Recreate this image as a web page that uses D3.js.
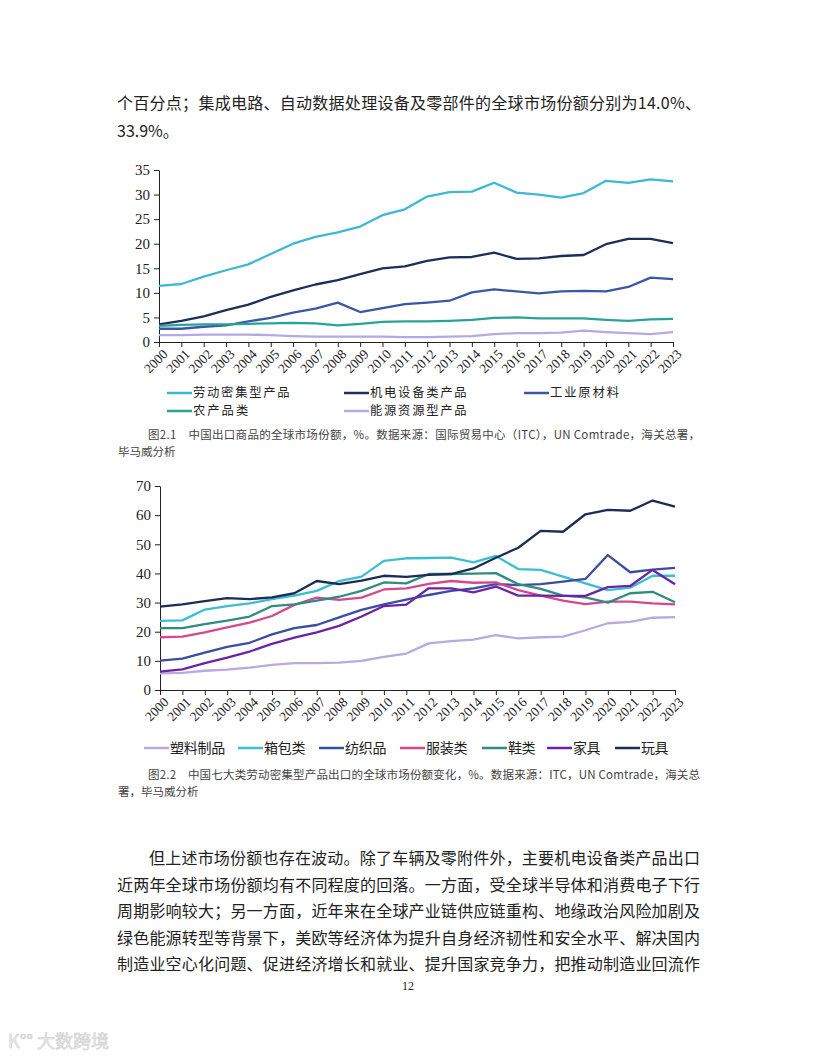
<!DOCTYPE html>
<html>
<head>
<meta charset="utf-8">
<script src="https://cdn.jsdelivr.net/npm/d3@7"></script>
<style>
  body { margin: 0; background: #fff; }
  svg { display: block; }
  .body-text { font-family: "Noto Sans CJK SC", sans-serif; font-size: 16px; fill: #222; }
  .caption { font-family: "Noto Sans CJK SC", sans-serif; font-size: 11.5px; fill: #444; }
  .legend text { font-family: "Noto Sans CJK SC", sans-serif; fill: #222; }
  .axis text { font-family: "Liberation Serif", serif; fill: #222; }
  .axis path, .axis line { stroke: #222; }
</style>
</head>
<body>
<svg width="816" height="1056"></svg>
<script>
const svg = d3.select('svg');

// years on the x axis
const years = ['2000', '2001', '2002', '2003', '2004', '2005', '2006', '2007', '2008', '2009', '2010', '2011',
  '2012', '2013', '2014', '2015', '2016', '2017', '2018', '2019', '2020', '2021', '2022', '2023'];

// figure 2.1 series
const labor = [11.4, 11.8, 13.3, 14.6, 15.8, 17.9, 20.0, 21.4, 22.3, 23.5, 25.8, 27.0, 29.6, 30.5, 30.6, 32.4, 30.4, 30.0, 29.4, 30.3, 32.8, 32.4, 33.1, 32.7];
const mech = [3.6, 4.3, 5.2, 6.5, 7.6, 9.2, 10.5, 11.7, 12.6, 13.8, 15.0, 15.4, 16.5, 17.2, 17.3, 18.2, 16.9, 17.0, 17.5, 17.7, 19.9, 21.0, 21.0, 20.1];
const rawMat = [2.7, 2.7, 3.1, 3.4, 4.2, 4.9, 6.0, 6.8, 8.0, 6.1, 6.9, 7.7, 8.0, 8.4, 10.1, 10.7, 10.3, 9.9, 10.3, 10.4, 10.3, 11.2, 13.1, 12.8];
const agri = [3.3, 3.5, 3.6, 3.6, 3.7, 3.8, 3.9, 3.8, 3.4, 3.7, 4.1, 4.2, 4.2, 4.3, 4.5, 4.9, 5.0, 4.8, 4.8, 4.8, 4.5, 4.3, 4.6, 4.7];
const energy = [1.4, 1.4, 1.5, 1.5, 1.5, 1.4, 1.2, 1.1, 1.1, 1.1, 1.1, 1.0, 1.0, 1.1, 1.2, 1.6, 1.8, 1.8, 1.9, 2.3, 2.0, 1.8, 1.6, 2.0];
const ticks1 = [0, 5, 10, 15, 20, 25, 30, 35];

// figure 2.2 series
const plastics = [5.7, 5.9, 6.6, 7.0, 7.7, 8.6, 9.2, 9.2, 9.4, 10.0, 11.4, 12.5, 16.0, 16.8, 17.3, 18.8, 17.7, 18.1, 18.3, 20.5, 22.9, 23.4, 24.8, 25.0];
const luggage = [23.7, 23.9, 27.6, 28.8, 29.7, 31.2, 32.4, 34.0, 37.4, 38.9, 44.3, 45.2, 45.3, 45.4, 43.8, 46.0, 41.5, 41.2, 38.9, 36.6, 34.3, 35.1, 39.2, 39.2];
const textiles = [10.1, 10.8, 12.8, 14.8, 16.2, 19.1, 21.2, 22.3, 24.9, 27.5, 29.4, 31.0, 32.6, 34.0, 34.9, 36.3, 36.0, 36.3, 37.2, 38.1, 46.3, 40.4, 41.3, 41.9];
const apparel = [18.1, 18.3, 19.8, 21.5, 23.1, 25.4, 29.2, 31.7, 30.9, 31.7, 34.5, 34.9, 36.4, 37.4, 36.8, 36.9, 34.3, 32.4, 30.7, 29.5, 30.3, 30.3, 29.7, 29.4];
const shoes = [21.2, 21.2, 22.6, 23.8, 25.2, 28.8, 29.4, 30.7, 32.0, 34.0, 36.9, 36.6, 39.8, 39.8, 39.9, 40.1, 36.3, 34.7, 32.4, 31.8, 30.0, 33.2, 33.7, 30.1];
const furniture = [6.3, 7.1, 9.2, 11.1, 13.2, 15.8, 18.0, 19.8, 22.0, 25.2, 28.8, 29.3, 34.9, 34.9, 33.5, 35.5, 32.4, 32.4, 32.3, 32.3, 35.3, 35.7, 41.2, 36.3];
const toys = [28.6, 29.4, 30.5, 31.5, 31.2, 31.8, 33.2, 37.4, 36.3, 37.5, 39.2, 38.8, 39.5, 39.8, 41.7, 45.4, 48.8, 54.6, 54.3, 60.3, 61.8, 61.5, 65.0, 62.9];
const ticks2 = [0, 10, 20, 30, 40, 50, 60, 70];

const series1 = [
  { name: '劳动密集型产品', values: labor, color: '#3db9d3' },
  { name: '机电设备类产品', values: mech, color: '#1c2f5c' },
  { name: '工业原材料', values: rawMat, color: '#3a56a6' },
  { name: '农产品类', values: agri, color: '#2aa397' },
  { name: '能源资源型产品', values: energy, color: '#b6a8e3' }
];

const series2 = [
  { name: '塑料制品', values: plastics, color: '#b8a9e0' },
  { name: '箱包类', values: luggage, color: '#3bbdd2' },
  { name: '纺织品', values: textiles, color: '#3a4d9e' },
  { name: '服装类', values: apparel, color: '#d6478f' },
  { name: '鞋类', values: shoes, color: '#2e8c80' },
  { name: '家具', values: furniture, color: '#6a24a8' },
  { name: '玩具', values: toys, color: '#1b2d54' }
];

svg.append('rect').attr('width', 816).attr('height', 1056).attr('fill', '#fff');

//draws one line chart with its axes
function drawChart(box, series, ticks) {
  const x = d3.scalePoint().domain(years).range([box.left, box.right]);
  const y = d3.scaleLinear().domain([0, ticks[ticks.length - 1]]).range([box.bottom, box.top]);

  const g = svg.append('g');

  g.append('g')
    .attr('class', 'axis')
    .attr('transform', `translate(${box.left},0)`)
    .call(d3.axisLeft(y).tickValues(ticks).tickSize(5).tickSizeOuter(0).tickPadding(4))
    .selectAll('text')
    .attr('font-size', 15);

  const xa = g.append('g')
    .attr('class', 'axis')
    .attr('transform', `translate(0,${box.bottom})`)
    .call(d3.axisBottom(x).tickSize(5).tickSizeOuter(0));

  xa.selectAll('text')
    .attr('font-size', 13.5)
    .attr('x', 0).attr('y', 0).attr('dy', 0)
    .attr('text-anchor', 'end')
    .attr('transform', 'translate(9,13) rotate(-45)');

  const line = d3.line()
    .x((d, i) => x(years[i]))
    .y(d => y(d));

  g.selectAll('.series')
    .data(series)
    .enter()
    .append('path')
    .attr('fill', 'none')
    .attr('stroke', d => d.color)
    .attr('stroke-width', 2.3)
    .attr('stroke-linejoin', 'round')
    .attr('d', d => line(d.values));
}

// legend: short coloured line then the name, name stretched to the reference width
function drawLegend(items, size) {
  const lg = svg.append('g').attr('class', 'legend');
  items.forEach(it => {
    lg.append('line')
      .attr('x1', it.x).attr('x2', it.x + 25)
      .attr('y1', it.y).attr('y2', it.y)
      .attr('stroke', it.s.color)
      .attr('stroke-width', 2.5);
    lg.append('text')
      .attr('x', it.x + 26)
      .attr('y', it.y)
      .attr('dy', '0.36em')
      .attr('font-size', size)
      .attr('textLength', it.s.name.length * 13.8)
      .attr('lengthAdjust', 'spacing')
      .text(it.s.name);
  });
}

// top text
svg.append('text').attr('class', 'body-text')
  .attr('x', 117).attr('y', 109)
  .attr('textLength', 584).attr('lengthAdjust', 'spacing')
  .text('个百分点；集成电路、自动数据处理设备及零部件的全球市场份额分别为14.0%、');
svg.append('text').attr('class', 'body-text')
  .attr('x', 117).attr('y', 137)
  .text('33.9%。');

// Figure 2.1
drawChart({ left: 159, right: 673, top: 170, bottom: 342 }, series1, ticks1);
drawLegend([
  { s: series1[0], x: 167, y: 393 },
  { s: series1[1], x: 344, y: 393 },
  { s: series1[2], x: 524, y: 393 },
  { s: series1[3], x: 167, y: 411 },
  { s: series1[4], x: 344, y: 411 }
], 12.3);

svg.append('text').attr('class', 'caption')
  .attr('x', 148).attr('y', 439)
  .attr('textLength', 552).attr('lengthAdjust', 'spacing')
  .text('图2.1　中国出口商品的全球市场份额，%。数据来源：国际贸易中心（ITC），UN Comtrade，海关总署，');
svg.append('text').attr('class', 'caption')
  .attr('x', 118).attr('y', 456)
  .text('毕马威分析');

// Figure 2.2
drawChart({ left: 160, right: 675, top: 486, bottom: 690 }, series2, ticks2);
drawLegend([
  { s: series2[0], x: 144, y: 748 },
  { s: series2[1], x: 238, y: 748 },
  { s: series2[2], x: 319, y: 748 },
  { s: series2[3], x: 400, y: 748 },
  { s: series2[4], x: 482, y: 748 },
  { s: series2[5], x: 547, y: 748 },
  { s: series2[6], x: 615, y: 748 }
], 14);

svg.append('text').attr('class', 'caption')
  .attr('x', 148).attr('y', 779)
  .attr('textLength', 552).attr('lengthAdjust', 'spacing')
  .text('图2.2　中国七大类劳动密集型产品出口的全球市场份额变化，%。数据来源：ITC，UN Comtrade，海关总');
svg.append('text').attr('class', 'caption')
  .attr('x', 118).attr('y', 796)
  .text('署，毕马威分析');

// body paragraph
const para = [
  { t: '但上述市场份额也存在波动。除了车辆及零附件外，主要机电设备类产品出口', x: 149, w: 551 },
  { t: '近两年全球市场份额均有不同程度的回落。一方面，受全球半导体和消费电子下行', x: 117, w: 583 },
  { t: '周期影响较大；另一方面，近年来在全球产业链供应链重构、地缘政治风险加剧及', x: 117, w: 583 },
  { t: '绿色能源转型等背景下，美欧等经济体为提升自身经济韧性和安全水平、解决国内', x: 117, w: 583 },
  { t: '制造业空心化问题、促进经济增长和就业、提升国家竞争力，把推动制造业回流作', x: 117, w: 583 }
];
para.forEach((p, i) => {
  svg.append('text').attr('class', 'body-text')
    .attr('x', p.x).attr('y', 864 + i * 26.5)
    .attr('textLength', p.w).attr('lengthAdjust', 'spacing')
    .text(p.t);
});

// page number
svg.append('text')
  .attr('x', 408).attr('y', 990)
  .attr('text-anchor', 'middle')
  .attr('font-family', 'Liberation Serif, serif')
  .attr('font-size', 12)
  .attr('fill', '#222')
  .text('12');

// watermark
svg.append('text')
  .attr('x', 8).attr('y', 1048)
  .attr('font-family', 'Noto Sans CJK SC, sans-serif')
  .attr('font-size', 18)
  .attr('fill', '#ececec')
  .attr('stroke', '#cfcfcf')
  .attr('stroke-width', 0.6)
  .text('K°° 大数跨境');
</script>
</body>
</html>
